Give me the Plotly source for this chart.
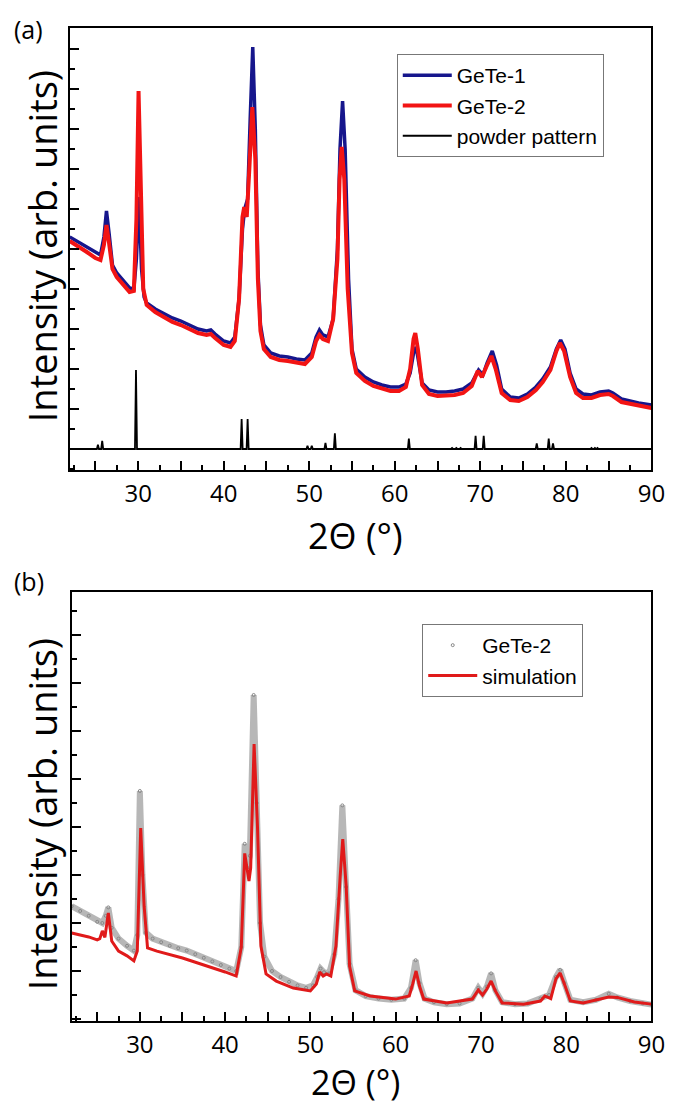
import plotly.graph_objects as go

# ---------------- Panel (a) data ----------------
gete1_x = [22.0, 23.0, 24.0, 25.0, 25.6, 26.0, 26.3, 26.6, 27.0, 27.5, 28.0, 28.5, 29.0, 29.5, 29.8, 30.1, 30.4, 30.7,
           31.0, 32.0, 33.0, 34.0, 35.0, 36.0, 37.0, 38.0, 38.5, 39.0, 40.0, 40.8, 41.3, 41.8, 42.2, 42.45, 42.8,
           43.1, 43.4, 43.7, 44.0, 44.3, 44.7, 45.5, 46.5, 47.5, 48.5, 49.5, 50.3, 50.8, 51.2, 51.6, 52.2, 52.8,
           53.3, 53.6, 53.9, 54.2, 54.6, 55.0, 55.5, 56.5, 57.5, 58.5, 59.5, 60.5, 61.3, 61.8, 62.2, 62.5, 62.8,
           63.2, 64.0, 65.0, 66.0, 67.0, 68.0, 69.0, 69.8, 70.3, 70.8, 71.4, 71.9, 72.5, 73.5, 74.5, 75.5, 76.5,
           77.3, 78.2, 78.9, 79.4, 79.9, 80.5, 81.2, 82.0, 83.0, 84.0, 85.0, 85.5, 86.5, 87.5, 88.5, 90.0]
gete1_y = [10.6, 10.35, 10.1, 9.8, 9.7, 10.6, 11.9, 10.8, 9.2, 8.8, 8.55, 8.3, 8.05, 8.0, 9.5, 12.6, 9.0, 7.6,
           7.3, 7.0, 6.75, 6.55, 6.4, 6.2, 6.0, 5.9, 5.95, 5.75, 5.4, 5.3, 5.6, 7.5, 11.0, 12.0, 12.5,
           16.5, 20.1, 16.0, 9.0, 6.2, 5.2, 4.8, 4.65, 4.6, 4.5, 4.45, 4.8, 5.6, 5.95, 5.7, 5.6, 6.5,
           10.0, 15.0, 17.4, 15.0, 8.5, 5.0, 4.0, 3.6, 3.35, 3.2, 3.1, 3.1, 3.25, 3.8, 4.8, 5.1, 4.4,
           3.3, 2.95, 2.85, 2.85, 2.9, 3.0, 3.3, 3.95, 3.7, 4.3, 4.9, 4.2, 3.0, 2.6, 2.55, 2.75, 3.1,
           3.5, 4.1, 5.0, 5.45, 5.0, 3.8, 3.0, 2.75, 2.7, 2.85, 2.9, 2.8, 2.5, 2.4, 2.3, 2.2]

gete2_x = [22.0, 23.0, 24.0, 25.0, 25.6, 26.0, 26.3, 26.6, 27.0, 27.5, 28.0, 28.5, 29.0, 29.5, 29.8, 30.05, 30.3,
           30.6, 31.0, 32.0, 33.0, 34.0, 35.0, 36.0, 37.0, 38.0, 38.5, 39.0, 40.0, 40.8, 41.3, 41.8, 42.2, 42.4,
           42.7, 43.0, 43.35, 43.7, 44.0, 44.3, 44.7, 45.5, 46.5, 47.5, 48.5, 49.5, 50.3, 50.8, 51.2, 51.6, 52.2,
           52.8, 53.3, 53.55, 53.8, 54.1, 54.5, 55.0, 55.5, 56.5, 57.5, 58.5, 59.5, 60.5, 61.3, 61.8, 62.2, 62.4,
           62.7, 63.2, 64.0, 65.0, 66.0, 67.0, 68.0, 69.0, 69.7, 70.2, 70.7, 71.3, 71.8, 72.5, 73.5, 74.5, 75.5,
           76.5, 77.3, 78.2, 78.9, 79.3, 79.8, 80.5, 81.2, 82.0, 83.0, 84.0, 85.0, 85.5, 86.5, 87.5, 88.5, 90.0]
gete2_y = [10.4, 10.15, 9.85, 9.55, 9.45, 10.2, 11.2, 10.3, 9.0, 8.6, 8.35, 8.1, 7.85, 7.9, 11.5, 17.9, 13.0,
           8.0, 7.2, 6.85, 6.6, 6.35, 6.2, 6.0, 5.8, 5.7, 5.75, 5.55, 5.2, 5.1, 5.4, 7.5, 11.6, 12.1,
           11.6, 14.0, 17.1, 14.5, 8.5, 5.9, 5.0, 4.6, 4.45, 4.4, 4.3, 4.25, 4.6, 5.4, 5.7, 5.5, 5.4,
           6.5, 9.5, 13.5, 15.1, 13.5, 8.0, 4.8, 3.8, 3.4, 3.15, 3.0, 2.9, 2.9, 3.1, 4.0, 5.5, 5.8,
           5.0, 3.2, 2.75, 2.65, 2.65, 2.7, 2.8, 3.15, 3.9, 3.6, 4.1, 4.65, 4.0, 2.8, 2.45, 2.4, 2.6,
           2.95, 3.35, 3.95, 4.9, 5.3, 4.9, 3.6, 2.8, 2.55, 2.55, 2.7, 2.75, 2.65, 2.35, 2.25, 2.15, 2.05]

# powder pattern reflections (position, height)
powder_pos = [25.3, 25.8, 29.75, 42.1, 42.8, 49.8, 50.3, 51.9, 53.0, 61.65, 66.7, 67.2, 67.7, 69.45, 70.4,
              76.6, 78.0, 78.5, 83.0, 83.4, 83.7]
powder_h = [0.21, 0.41, 3.95, 1.5, 1.5, 0.16, 0.16, 0.3, 0.79, 0.52, 0.05, 0.05, 0.05, 0.66, 0.66,
            0.28, 0.52, 0.28, 0.05, 0.05, 0.05]

# ---------------- Panel (b) data ----------------
meas_x = [22.0, 23.0, 24.0, 25.0, 25.6, 26.0, 26.3, 26.7, 27.5, 28.5, 29.3, 29.7, 30.0, 30.3, 30.7, 31.5, 32.5,
          33.5, 34.5, 35.5, 36.5, 37.5, 38.5, 39.5, 40.5, 41.3, 41.9, 42.3, 42.6, 42.9, 43.35, 43.7, 44.1, 44.6,
          45.5, 46.5, 47.5, 48.5, 49.5, 50.3, 50.8, 51.2, 51.6, 52.2, 52.8, 53.3, 53.75, 54.2, 54.6, 55.3, 56.5,
          58.0, 59.5, 61.0, 61.8, 62.35, 62.8, 63.4, 64.5, 66.0, 67.5, 69.0, 69.7, 70.2, 70.7, 71.2, 71.7, 72.5,
          74.0, 75.5, 77.0, 78.0, 78.8, 79.3, 79.8, 80.5, 82.0, 83.5, 85.0, 86.0, 87.5, 89.0, 90.0]
meas_y = [4.7, 4.5, 4.3, 4.05, 4.0, 4.3, 4.65, 3.8, 3.35, 3.05, 2.85, 3.5, 9.5, 6.0, 3.6, 3.35, 3.2,
          3.05, 2.95, 2.85, 2.7, 2.55, 2.4, 2.25, 2.1, 2.0, 3.0, 7.3, 6.3, 6.8, 13.5, 9.0, 4.0, 2.6,
          2.0, 1.75, 1.55, 1.4, 1.3, 1.4, 1.75, 2.1, 1.95, 1.9, 2.7, 5.0, 8.9, 5.5, 2.3, 1.2, 0.95,
          0.85, 0.8, 0.85, 1.3, 2.45, 1.5, 0.85, 0.7, 0.62, 0.65, 0.85, 1.3, 1.05, 1.35, 1.9, 1.2, 0.7,
          0.62, 0.65, 0.85, 1.0, 1.75, 2.05, 1.5, 0.8, 0.7, 0.8, 1.05, 0.9, 0.75, 0.65, 0.6]

sim_x = [22.0, 23.0, 24.0, 25.0, 25.3, 25.6, 25.9, 26.3, 26.7, 27.5, 28.5, 29.3, 29.7, 30.1, 30.5, 30.9, 32.0,
         35.0, 38.0, 40.0, 41.3, 41.9, 42.3, 42.6, 42.8, 43.0, 43.4, 43.8, 44.2, 44.8, 46.0, 48.0, 50.0, 50.7,
         51.1, 51.5, 51.9, 52.4, 53.0, 53.5, 53.8, 54.2, 54.6, 55.2, 57.0, 60.0, 61.6, 62.0, 62.4, 62.8, 63.3,
         66.0, 69.0, 69.7, 70.2, 70.7, 71.2, 71.7, 72.5, 75.0, 77.0, 77.5, 78.2, 78.8, 79.3, 79.8, 80.5, 82.0,
         85.0, 86.0, 88.0, 90.0]
sim_y = [3.58, 3.5, 3.42, 3.3, 3.35, 3.67, 3.4, 4.42, 3.25, 2.83, 2.63, 2.42, 2.83, 7.96, 4.7, 2.96, 2.83,
         2.54, 2.2, 1.96, 1.79, 3.0, 6.9, 6.2, 5.75, 6.3, 11.46, 8.0, 3.04, 1.88, 1.58, 1.29, 1.17, 1.46,
         1.96, 1.79, 1.88, 1.79, 3.04, 5.96, 7.5, 5.54, 2.2, 1.17, 0.96, 0.83, 0.96, 1.45, 2.0, 1.375, 0.83,
         0.67, 0.83, 1.21, 1.0, 1.25, 1.58, 1.17, 0.67, 0.62, 0.75, 0.96, 0.85, 1.67, 1.92, 1.46, 0.75, 0.67,
         0.92, 0.9, 0.71, 0.62]

x_ticks = [25, 30, 35, 40, 45, 50, 55, 60, 65, 70, 75, 80, 85, 90]
x_ticktext = ["", "30", "", "40", "", "50", "", "60", "", "70", "", "80", "", "90"]

# build powder stick line from the reflection list
pw_x, pw_y = [22.0], [0.0]
for p, h in zip(powder_pos, powder_h):
    pw_x += [p - 0.12, p, p + 0.12]
    pw_y += [0.0, h, 0.0]
pw_x.append(90.0)
pw_y.append(0.0)

W, H = 675, 1106
BLUE = "#16168c"
RED = "#f21414"

fig = go.Figure()
fig.add_trace(go.Scatter(x=gete1_x, y=gete1_y, mode="lines", name="GeTe-1",
                         line=dict(color=BLUE, width=3.5), xaxis="x", yaxis="y", legend="legend"))
fig.add_trace(go.Scatter(x=gete2_x, y=gete2_y, mode="lines", name="GeTe-2",
                         line=dict(color=RED, width=4), xaxis="x", yaxis="y", legend="legend"))
fig.add_trace(go.Scatter(x=pw_x, y=pw_y, mode="lines", name="powder pattern",
                         line=dict(color="black", width=1.8), xaxis="x", yaxis="y", legend="legend"))

fig.add_trace(go.Scatter(x=meas_x, y=meas_y, mode="lines", showlegend=False, hoverinfo="skip",
                         line=dict(color="rgba(95,95,95,0.45)", width=6), xaxis="x2", yaxis="y2"))
fig.add_trace(go.Scatter(x=meas_x, y=meas_y, mode="markers", name="GeTe-2",
                         marker=dict(symbol="circle-open", size=3, color="#888888", line=dict(width=1)),
                         xaxis="x2", yaxis="y2", legend="legend2"))
fig.add_trace(go.Scatter(x=sim_x, y=sim_y, mode="lines", name="simulation",
                         line=dict(color="#e01a1a", width=3), xaxis="x2", yaxis="y2", legend="legend2"))

tickfont = dict(family="Open Sans", size=24, color="black")
common_x = dict(range=[22, 90], tickmode="array", tickvals=x_ticks, ticktext=x_ticktext,
                ticks="inside", ticklen=9, tickwidth=1.5, tickcolor="black",
                minor=dict(dtick=2.5, tick0=0, ticks="inside", ticklen=5, tickwidth=1.5, tickcolor="black"),
                showline=True, linecolor="black", linewidth=2, mirror=True, showgrid=False, zeroline=False,
                tickfont=tickfont, ticklabelstandoff=1)
common_y = dict(showticklabels=False, dtick=2, tick0=0, ticks="inside", ticklen=9, tickwidth=1.5,
                tickcolor="black",
                minor=dict(dtick=1, tick0=0, ticks="inside", ticklen=5, tickwidth=1.5, tickcolor="black"),
                showline=True, linecolor="black", linewidth=2, mirror=True, showgrid=False, zeroline=False)

# pixel geometry
a_l, a_r, a_t, a_b = 63, 657, 20, 462
b_l, b_r, b_t, b_b = 65, 657, 584, 1013

legend_font = dict(family="Liberation Sans", size=21, color="black")
fig.update_layout(
    width=W, height=H, autosize=False,
    margin=dict(l=0, r=0, t=0, b=0),
    paper_bgcolor="white", plot_bgcolor="white",
    xaxis=dict(domain=[a_l / W, a_r / W], anchor="y", **common_x),
    yaxis=dict(domain=[1 - a_b / H, 1 - a_t / H], anchor="x", range=[-1.05, 21.05], **common_y),
    xaxis2=dict(domain=[b_l / W, b_r / W], anchor="y2", **common_x),
    yaxis2=dict(domain=[1 - b_b / H, 1 - b_t / H], anchor="x2", range=[-0.083, 17.79], **common_y),
    legend=dict(x=397 / W, y=1 - 46 / H, xanchor="left", yanchor="top", bgcolor="white",
                bordercolor="#777777", borderwidth=1, tracegroupgap=0, itemwidth=49, font=legend_font),
    legend2=dict(x=423 / W, y=1 - 616 / H, xanchor="left", yanchor="top", bgcolor="white",
                 bordercolor="#777777", borderwidth=1, tracegroupgap=0, itemwidth=49, font=legend_font),
    showlegend=True,
)

ann_font = dict(family="Open Sans", size=38, color="black")
fig.add_annotation(text="Intensity (arb. units)", x=35 / W, y=1 - 238 / H, xref="paper", yref="paper",
                   textangle=-90, showarrow=False, font=ann_font, xanchor="center", yanchor="middle")
fig.add_annotation(text="Intensity (arb. units)", x=35 / W, y=1 - 806 / H, xref="paper", yref="paper",
                   textangle=-90, showarrow=False, font=ann_font, xanchor="center", yanchor="middle")
fig.add_annotation(text="2Θ (°)", x=355 / W, y=1 - 527 / H, xref="paper", yref="paper",
                   showarrow=False, font=dict(family="Open Sans", size=36, color="black"),
                   xanchor="center", yanchor="middle")
fig.add_annotation(text="2Θ (°)", x=355 / W, y=1 - 1074 / H, xref="paper", yref="paper",
                   showarrow=False, font=dict(family="Open Sans", size=34, color="black"),
                   xanchor="center", yanchor="middle")
fig.add_annotation(text="(a)", x=21 / W, y=1 - 21 / H, xref="paper", yref="paper",
                   showarrow=False, font=dict(family="Open Sans", size=25, color="black"),
                   xanchor="center", yanchor="middle")
fig.add_annotation(text="(b)", x=21 / W, y=1 - 573 / H, xref="paper", yref="paper",
                   showarrow=False, font=dict(family="Open Sans", size=25, color="black"),
                   xanchor="center", yanchor="middle")

fig.write_html("out.html")
